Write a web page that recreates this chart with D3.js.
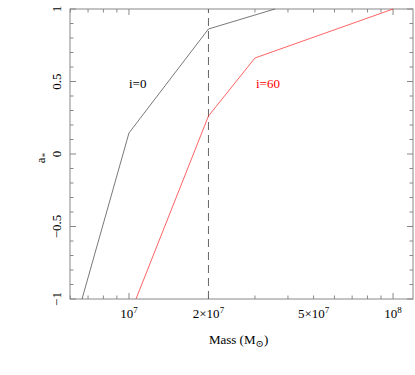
<!DOCTYPE html>
<html>
<head>
<meta charset="utf-8">
<script src="https://cdn.jsdelivr.net/npm/d3@7"></script>
<style>
  body { margin: 0; background: #fff; }
  text { font-family: "Liberation Serif", "DejaVu Serif", serif; }
</style>
</head>
<body>
<div id="container"></div>
<script>
// data
const massI0 = [6.64e6, 1.0e7, 2.0e7, 3.57e7];
const spinI0 = [-1, 0.145, 0.862, 1.0];
const massI60 = [1.063e7, 2.0e7, 3.0e7, 1.0e8];
const spinI60 = [-1, 0.262, 0.662, 1.0];
const xTickVals = [1e7, 2e7, 5e7, 1e8];
const xTickExp = [['', '7'], ['2×', '7'], ['5×', '7'], ['', '8']];
const yTickVals = [-1, -0.5, 0, 0.5, 1];
const yTickLabels = ['\u22121', '\u22120.5', '0', '0.5', '1'];
const markerMass = 2e7;

const width = 415, height = 375;
const m = { left: 70, right: 2, top: 9, bottom: 76 };

const svg = d3.select('#container').append('svg')
    .attr('width', width)
    .attr('height', height);

const x = d3.scaleLog().domain([5.98e6, 1.19e8]).range([m.left, width - m.right]);
const y = d3.scaleLinear().domain([-1, 1]).range([height - m.bottom, m.top]);

const frameCol = '#888';

// minor / major tick positions
const xMinor = [];
for (let p = 6; p <= 8; p++) {
  for (let k = 1; k <= 9; k++) {
    const v = k * Math.pow(10, p);
    if (v >= x.domain()[0] && v <= x.domain()[1]) xMinor.push(v);
  }
}
const yMinor = d3.range(-1, 1.0001, 0.1);

const g = svg.append('g');

// bottom & top ticks
[[height - m.bottom, -1], [m.top, 1]].forEach(([yy, dir]) => {
  g.selectAll(null).data(xMinor).enter().append('line')
    .attr('x1', d => x(d)).attr('x2', d => x(d))
    .attr('y1', yy)
    .attr('y2', d => yy + dir * ((d === 1e7 || d === 1e8) ? 6 : 3.5))
    .attr('stroke', frameCol).attr('stroke-width', 1);
});

// left & right ticks
[[m.left, 1], [width - m.right, -1]].forEach(([xx, dir]) => {
  g.selectAll(null).data(yMinor).enter().append('line')
    .attr('y1', d => y(d)).attr('y2', d => y(d))
    .attr('x1', xx)
    .attr('x2', d => xx + dir * (Math.abs(d * 2 - Math.round(d * 2)) < 1e-6 ? 6 : 3.5))
    .attr('stroke', frameCol).attr('stroke-width', 1);
});

// frame
svg.append('rect')
  .attr('x', m.left).attr('y', m.top)
  .attr('width', width - m.right - m.left)
  .attr('height', height - m.bottom - m.top)
  .attr('fill', 'none').attr('stroke', frameCol).attr('stroke-width', 1);

// dashed marker
svg.append('line')
  .attr('x1', x(markerMass)).attr('x2', x(markerMass))
  .attr('y1', y(-1)).attr('y2', y(1))
  .attr('stroke', '#666').attr('stroke-width', 1)
  .attr('stroke-dasharray', '8,5');

// curves
const line = d3.line().x(d => x(d[0])).y(d => y(d[1]));
svg.append('path')
  .datum(d3.zip(massI0, spinI0))
  .attr('d', line)
  .attr('fill', 'none').attr('stroke', '#555').attr('stroke-width', 0.8);
svg.append('path')
  .datum(d3.zip(massI60, spinI60))
  .attr('d', line)
  .attr('fill', 'none').attr('stroke', '#ff2020').attr('stroke-width', 0.7);

// x tick labels
const xl = svg.selectAll(null).data(xTickVals).enter().append('text')
  .attr('x', d => x(d))
  .attr('y', 318)
  .attr('text-anchor', 'middle')
  .attr('font-size', 13)
  .attr('fill', '#000');
xl.append('tspan').text((d, i) => xTickExp[i][0] + '10');
xl.append('tspan').attr('dy', -5).attr('font-size', 9).text((d, i) => xTickExp[i][1]);

// y tick labels
svg.selectAll(null).data(yTickVals).enter().append('text')
  .attr('transform', d => `translate(61,${y(d)}) rotate(-90)`)
  .attr('text-anchor', 'middle')
  .attr('font-size', 13)
  .attr('fill', '#000')
  .text((d, i) => yTickLabels[i]);

// axis titles
const xt = svg.append('text')
  .attr('x', x(2.6e7)).attr('y', 344)
  .attr('text-anchor', 'middle')
  .attr('font-size', 13)
  .attr('fill', '#000');
xt.append('tspan').text('Mass (M');
xt.append('tspan').attr('dy', 3).attr('font-size', 10).text('\u2299');
xt.append('tspan').attr('dy', -3).text(')');

const yt = svg.append('text')
  .attr('transform', `translate(45,${y(0) + 4}) rotate(-90)`)
  .attr('text-anchor', 'middle')
  .attr('font-size', 13)
  .attr('fill', '#000');
yt.append('tspan').text('a');
yt.append('tspan').attr('dy', 3).attr('font-size', 9).text('*');

// curve labels
svg.append('text')
  .attr('x', 129).attr('y', 88)
  .attr('font-size', 13).attr('fill', '#000')
  .text('i=0');
svg.append('text')
  .attr('x', 256).attr('y', 88)
  .attr('font-size', 13).attr('fill', '#ff0000')
  .text('i=60');
</script>
</body>
</html>
